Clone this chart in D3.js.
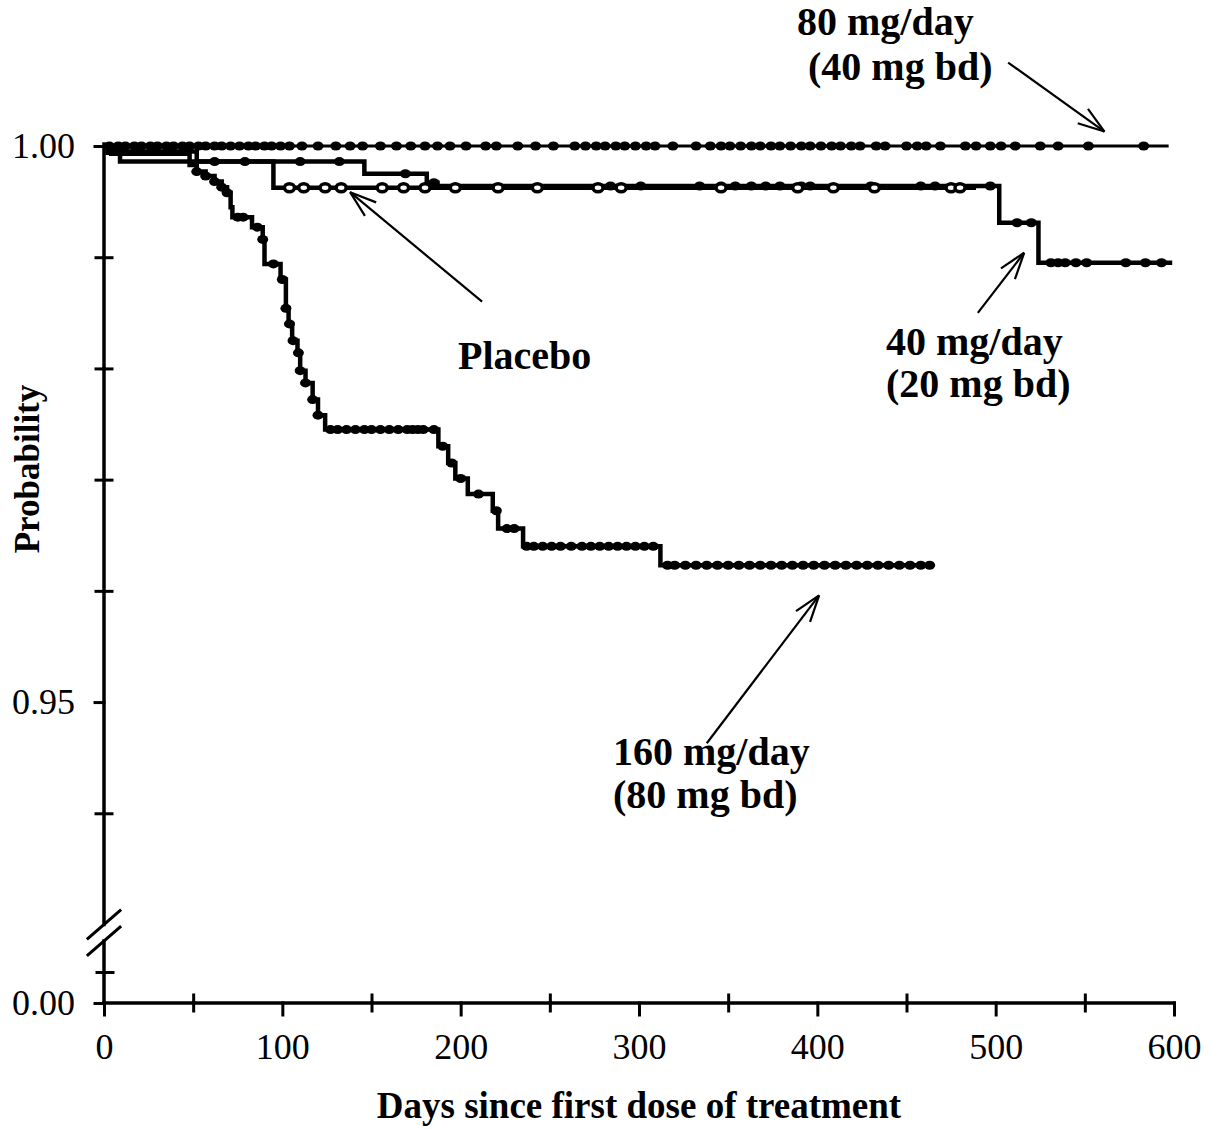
<!DOCTYPE html>
<html>
<head>
<meta charset="utf-8">
<script src="https://cdn.jsdelivr.net/npm/d3@7"></script>
<style>
  body { margin: 0; background: #fff; }
  svg { display: block; }
  text { font-family: "Liberation Serif", "Times New Roman", serif; fill: #000; }
</style>
</head>
<body>
<svg id="chart" width="1219" height="1129"></svg>
<script>
// ---- data (days, Kaplan-Meier probability) ----
const xTicks = [0, 100, 200, 300, 400, 500, 600];
const xMinorTicks = [50, 150, 250, 350, 450, 550];
const yMajorTicks = [0.95, 1.00];
const yMinorTicks = [0.99, 0.98, 0.97, 0.96, 0.94];
const yBottomTicks = [0.00];
const yBottomMinor = [0.01];

// 80 mg/day (40 mg bd): no events
const events80 = [];
const surv80 = [];
const end80 = 597;
const censor80 = [3, 8, 12, 17, 21, 26, 30, 35, 39, 44, 48, 53, 57, 62, 66, 71, 76, 81, 85, 90, 94, 99,
  104, 111, 120, 130, 138, 145, 155, 164, 172, 180, 187, 194, 203, 214, 220, 232, 242, 252, 264, 270,
  276, 281, 287, 292, 298, 304, 309, 319, 332, 340, 346, 351, 357, 363, 368, 374, 379, 385, 391, 396,
  402, 408, 413, 419, 424, 433, 438, 450, 456, 461, 469, 483, 489, 497, 503, 511, 525, 535, 552, 583];

// 40 mg/day (20 mg bd)
const events40 = [5, 52, 146, 181, 187, 502, 524];
const surv40 = [0.9995, 0.9986, 0.9975, 0.9967, 0.9964, 0.9931, 0.9895];
const end40 = 599;
const censor40 = [62, 79, 110, 132, 169, 185, 284, 301, 334, 346, 354, 363, 371, 379, 391, 396, 430,
  458, 466, 497, 512, 520, 531, 535, 539, 545, 551, 573, 584, 593];

// Placebo
const eventsPl = [2, 9, 95];
const survPl = [0.9994, 0.9986, 0.99625];
const endPl = 489;
const censorPl = [104, 112, 124, 133, 156, 168, 180, 197, 221, 243, 277, 290, 346, 389, 409, 432, 475, 480];

// 160 mg/day (80 mg bd)
const events160 = [4, 48, 52, 57, 62, 66, 69, 71, 72, 83, 89, 90, 99, 102, 103.5, 105.5, 108.5, 110,
  113, 117, 120, 124, 187.5, 193, 197, 204, 218, 221, 235, 312];
const surv160 = [0.9993, 0.9983, 0.9977, 0.9973, 0.9968, 0.9963, 0.9958, 0.9945, 0.9936, 0.9927,
  0.9916, 0.9894, 0.9880, 0.9854, 0.9840, 0.9825, 0.9814, 0.9798, 0.9787, 0.9772, 0.9758, 0.9745,
  0.9730, 0.9715, 0.9701, 0.9687, 0.9672, 0.9656, 0.9640, 0.9623];
const end160 = 465;
const censor160 = [52, 57, 62, 66, 69, 75, 78, 86, 89, 95, 100, 102, 104, 106, 109, 110, 113, 117, 120,
  127, 131, 136, 141, 146, 150, 155, 160, 165, 170, 173, 176, 179, 185, 190, 195, 200, 210, 220, 226,
  230, 237, 241, 246, 251, 256, 262, 268, 273, 278, 283, 288, 293, 298, 303, 308, 316, 320, 326, 332,
  338, 344, 350, 356, 362, 368, 374, 380, 386, 392, 398, 404, 410, 416, 422, 428, 434, 440, 446, 452,
  458, 463];

// ---- layout ----
const svg = d3.select("#chart");
const x = d3.scaleLinear().domain([0, 600]).range([104, 1174]);
const y = d3.scaleLinear().domain([0.93, 1.0]).range([924.5, 146]);
const yLow = d3.scaleLinear().domain([0, 0.02]).range([1003, 941]);
const axisY = yLow(0);

function stepPoints(ev, sv, end) {
  const pts = [[0, 1]];
  ev.forEach((d, i) => pts.push([d, sv[i]]));
  pts.push([end, sv.length ? sv[sv.length - 1] : 1]);
  return pts;
}
function survAt(ev, sv, t) {
  let s = 1;
  ev.forEach((d, i) => { if (d <= t) s = sv[i]; });
  return s;
}

const line = d3.line()
  .x(d => x(d[0]))
  .y(d => y(d[1]))
  .curve(d3.curveStepAfter);

const series = [
  { ev: events80, sv: surv80, end: end80, cens: censor80, width: 3, open: false },
  { ev: events40, sv: surv40, end: end40, cens: censor40, width: 4.5, open: false },
  { ev: eventsPl, sv: survPl, end: endPl, cens: censorPl, width: 4.5, open: true },
  { ev: events160, sv: surv160, end: end160, cens: censor160, width: 4.5, open: false }
];

const plot = svg.append("g");
series.forEach(s => {
  plot.append("path")
    .datum(stepPoints(s.ev, s.sv, s.end))
    .attr("d", line)
    .attr("fill", "none")
    .attr("stroke", "#000")
    .attr("stroke-width", s.width);
  plot.selectAll(null)
    .data(s.cens)
    .enter()
    .append("ellipse")
    .attr("cx", d => x(d))
    .attr("cy", d => y(survAt(s.ev, s.sv, d)))
    .attr("rx", s.open ? 5 : 5.5)
    .attr("ry", s.open ? 4 : 4.5)
    .attr("fill", s.open ? "#fff" : "#000")
    .attr("stroke", "#000")
    .attr("stroke-width", s.open ? 3.5 : 0);
});

// ---- axes ----
const axes = svg.append("g").attr("stroke-linecap", "square");

function styleAxis(g, fontSize) {
  g.select(".domain").remove();
  g.selectAll(".tick line").attr("stroke", "#000").attr("stroke-width", 3);
  g.selectAll("text").style("font-size", fontSize + "px").attr("fill", "#000");
}

// y axis lines (broken)
axes.append("line").attr("x1", x(0)).attr("x2", x(0))
  .attr("y1", y(1.0) - 2).attr("y2", y(0.93))
  .attr("stroke", "#000").attr("stroke-width", 3.5);
axes.append("line").attr("x1", x(0)).attr("x2", x(0))
  .attr("y1", yLow(0.02)).attr("y2", axisY)
  .attr("stroke", "#000").attr("stroke-width", 3.5);
// break marks
[y(0.93), yLow(0.02)].forEach(by => {
  axes.append("line")
    .attr("x1", x(0) - 16).attr("y1", by + 14)
    .attr("x2", x(0) + 16).attr("y2", by - 14)
    .attr("stroke", "#000").attr("stroke-width", 3);
});

axes.append("g").attr("transform", `translate(${x(0)},0)`)
  .call(d3.axisLeft(y).tickValues(yMajorTicks).tickSize(9).tickPadding(20).tickFormat(d3.format(".2f")))
  .call(g => styleAxis(g, 36));
axes.append("g").attr("transform", `translate(${x(0)},0)`)
  .call(d3.axisLeft(y).tickValues(yMinorTicks).tickSize(8).tickFormat(""))
  .call(g => styleAxis(g, 36));
axes.append("g").attr("transform", `translate(${x(0)},0)`)
  .call(d3.axisRight(y).tickValues(yMinorTicks).tickSize(8).tickFormat(""))
  .call(g => styleAxis(g, 36));
axes.append("g").attr("transform", `translate(${x(0)},0)`)
  .call(d3.axisLeft(yLow).tickValues(yBottomTicks).tickSize(9).tickPadding(20).tickFormat(d3.format(".2f")))
  .call(g => styleAxis(g, 36));
axes.append("g").attr("transform", `translate(${x(0)},0)`)
  .call(d3.axisLeft(yLow).tickValues(yBottomMinor).tickSize(7).tickFormat(""))
  .call(g => styleAxis(g, 36));
axes.append("g").attr("transform", `translate(${x(0)},0)`)
  .call(d3.axisRight(yLow).tickValues(yBottomMinor).tickSize(9).tickFormat(""))
  .call(g => styleAxis(g, 36));

// x axis
axes.append("line").attr("x1", x(0)).attr("x2", x(600))
  .attr("y1", axisY).attr("y2", axisY)
  .attr("stroke", "#000").attr("stroke-width", 3.5);
axes.append("g").attr("transform", `translate(0,${axisY})`)
  .call(d3.axisBottom(x).tickValues(xTicks).tickSize(12).tickFormat(d3.format("d")))
  .call(g => styleAxis(g, 36))
  .call(g => g.selectAll("text").attr("y", 56).attr("dy", null));
axes.append("g").attr("transform", `translate(0,${axisY})`)
  .call(d3.axisBottom(x).tickValues(xMinorTicks).tickSize(8).tickFormat(""))
  .call(g => styleAxis(g, 36));
axes.append("g").attr("transform", `translate(0,${axisY})`)
  .call(d3.axisTop(x).tickValues(xMinorTicks).tickSize(8).tickFormat(""))
  .call(g => styleAxis(g, 36));

// axis titles
svg.append("text")
  .attr("x", 639).attr("y", 1118)
  .attr("text-anchor", "middle")
  .style("font-size", "37px").style("font-weight", "bold")
  .text("Days since first dose of treatment");
svg.append("text")
  .attr("transform", "translate(39,469) rotate(-90)")
  .attr("text-anchor", "middle")
  .style("font-size", "35px").style("font-weight", "bold")
  .text("Probability");

// ---- annotations ----
const labels = [
  { lines: ["80 mg/day", "(40 mg bd)"], x: [797, 808], y: [35, 80] },
  { lines: ["Placebo"], x: [458], y: [369] },
  { lines: ["40 mg/day", "(20 mg bd)"], x: [886, 886], y: [355, 397] },
  { lines: ["160 mg/day", "(80 mg bd)"], x: [613, 613], y: [765, 808] }
];
// arrows: start and tip in data units (day, probability)
const arrows = [
  { from: [507, 1.0075], to: [561, 1.0013] },
  { from: [212, 0.9860], to: [138, 0.99585] },
  { from: [490, 0.9850], to: [516, 0.9904] },
  { from: [338, 0.9463], to: [401, 0.9596] }
];

labels.forEach(l => {
  l.lines.forEach((t, i) => {
    svg.append("text")
      .attr("x", l.x[i]).attr("y", l.y[i])
      .style("font-size", "40px").style("font-weight", "bold")
      .text(t);
  });
});

arrows.forEach(a => {
  const x1 = x(a.from[0]), y1 = y(a.from[1]);
  const x2 = x(a.to[0]), y2 = y(a.to[1]);
  const ang = Math.atan2(y2 - y1, x2 - x1);
  const head = 28, spread = 0.32;
  const g = svg.append("g").attr("stroke", "#000").attr("stroke-width", 2.2).attr("fill", "none");
  g.append("line").attr("x1", x1).attr("y1", y1).attr("x2", x2).attr("y2", y2);
  [-spread, spread].forEach(s => {
    g.append("line")
      .attr("x1", x2).attr("y1", y2)
      .attr("x2", x2 - head * Math.cos(ang + s))
      .attr("y2", y2 - head * Math.sin(ang + s));
  });
});
</script>
</body>
</html>
